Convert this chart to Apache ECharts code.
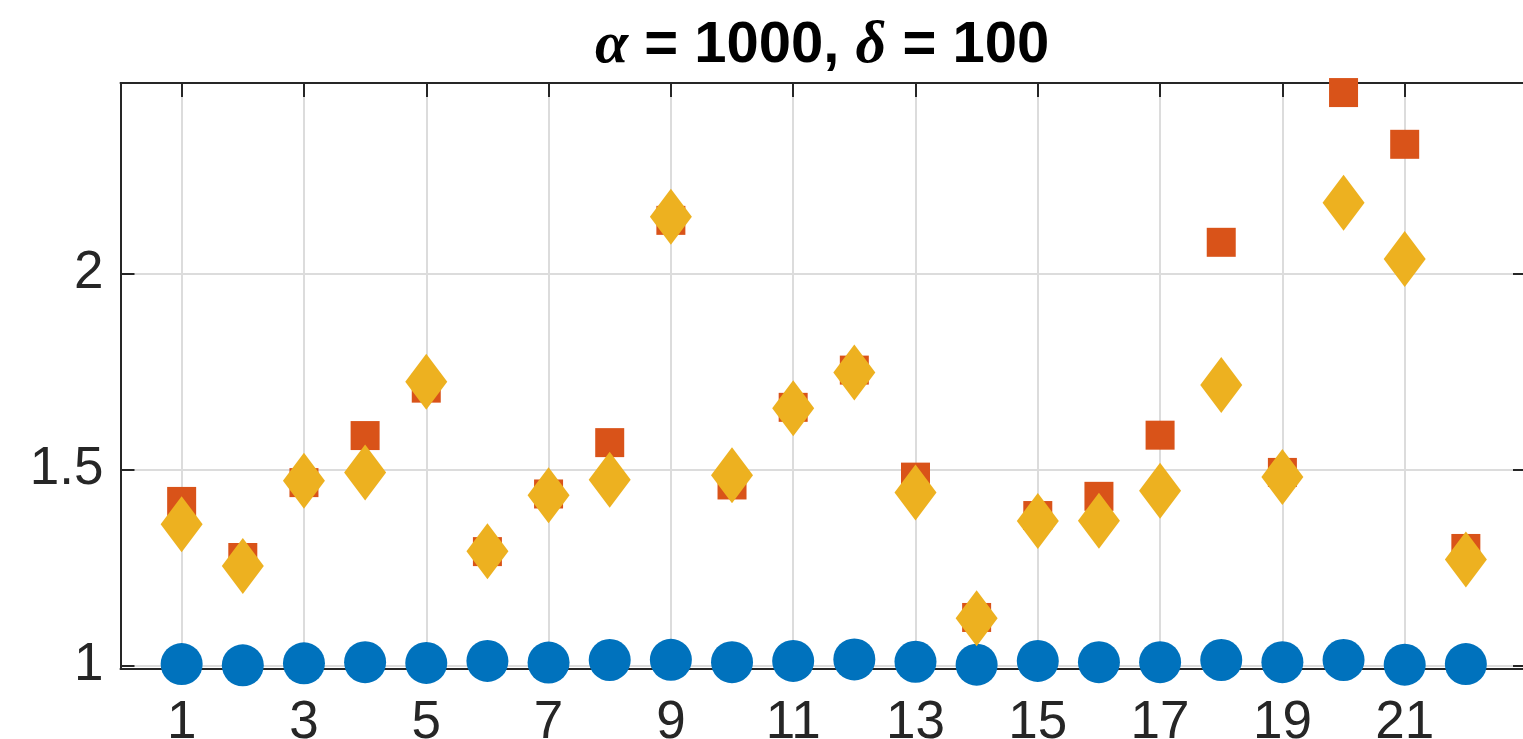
<!DOCTYPE html>
<html>
<head>
<meta charset="utf-8">
<script src="https://cdn.jsdelivr.net/npm/echarts@6/dist/echarts.min.js"></script>
<style>
  html, body { margin: 0; padding: 0; background: #ffffff; }
  #chart { width: 1523px; height: 739px; }
</style>
</head>
<body>
<div id="chart"></div>
<script>
// Case indices along the x axis
const caseIds = [1, 2, 3, 4, 5, 6, 7, 8, 9, 10, 11, 12, 13, 14, 15, 16, 17, 18, 19, 20, 21, 22];

// Ratio values per case for the three methods
const circleVals = [1.003, 1.000, 1.005, 1.008, 1.006, 1.011, 1.007, 1.0135, 1.014, 1.008, 1.011,
                    1.015, 1.009, 1.0015, 1.011, 1.008, 1.008, 1.0135, 1.008, 1.0135, 1.0015, 1.003];
const squareVals = [1.418, 1.275, 1.466, 1.586, 1.707, 1.290, 1.437, 1.568, 2.135, 1.460, 1.658,
                    1.753, 1.480, 1.122, 1.382, 1.431, 1.587, 2.079, 1.492, 2.461, 2.329, 1.298];
const diamondVals = [1.360, 1.253, 1.471, 1.492, 1.7235, 1.291, 1.434, 1.473, 2.144, 1.485, 1.656,
                     1.747, 1.441, 1.120, 1.368, 1.369, 1.445, 1.715, 1.480, 2.180, 2.0365, 1.270];

// Tick positions
const xTicks = [1, 3, 5, 7, 9, 11, 13, 15, 17, 19, 21];
const yTicks = [1, 1.5, 2];

const axisDark = '#262626';
const gridGray = '#dcdcdc';

const pairs = vals => caseIds.map((c, i) => [c, vals[i]]);

const chart = echarts.init(document.getElementById('chart'), null, { renderer: 'canvas' });

const tickStyle = { show: true, inside: true, length: 14, lineStyle: { color: axisDark, width: 2 } };

chart.setOption({
  animation: false,
  backgroundColor: '#ffffff',
  title: {
    text: '{g|α}{t| = 1000, }{g|δ}{t| = 100}',
    left: 590,
    top: 11,
    textStyle: {
      rich: {
        g: { fontFamily: 'Liberation Serif', fontStyle: 'italic', fontSize: 60, color: '#000000' },
        t: { fontFamily: 'Liberation Sans', fontWeight: 'bold', fontSize: 58, color: '#000000' }
      }
    }
  },
  grid: {
    left: 120.5, right: -4, top: 83, bottom: 70.5,
    containLabel: false, outerBoundsMode: 'none'
  },
  xAxis: [
    {
      type: 'value', position: 'bottom', min: 0, max: 23,
      axisLine: { show: true, onZero: false, lineStyle: { color: axisDark, width: 2 } },
      axisTick: Object.assign({ customValues: xTicks }, tickStyle),
      axisLabel: {
        customValues: xTicks, margin: 28,
        fontFamily: 'Liberation Sans', fontSize: 53, color: axisDark
      },
      splitLine: { show: true, lineStyle: { color: gridGray, width: 2 } }
    },
    {
      type: 'value', position: 'top', min: 0, max: 23,
      axisLine: { show: true, onZero: false, lineStyle: { color: axisDark, width: 2 } },
      axisTick: Object.assign({ customValues: xTicks }, tickStyle),
      axisLabel: { show: false },
      splitLine: { show: false }
    }
  ],
  yAxis: [
    {
      type: 'value', position: 'left', min: 0.9918, max: 2.4854,
      axisLine: { show: true, onZero: false, lineStyle: { color: axisDark, width: 2 } },
      axisTick: Object.assign({ customValues: yTicks }, tickStyle),
      axisLabel: {
        customValues: yTicks, margin: 17,
        fontFamily: 'Liberation Sans', fontSize: 53, color: axisDark
      },
      splitLine: { show: true, lineStyle: { color: gridGray, width: 2 } }
    },
    {
      type: 'value', position: 'right', min: 0.9918, max: 2.4854,
      axisLine: { show: true, onZero: false, lineStyle: { color: axisDark, width: 2 } },
      axisTick: Object.assign({ customValues: yTicks }, tickStyle),
      axisLabel: { show: false },
      splitLine: { show: false }
    }
  ],
  series: [
    {
      name: 'circle', type: 'scatter', data: pairs(circleVals),
      symbol: 'circle', symbolSize: 42, clip: false, z: 3,
      itemStyle: { color: '#0072BD', opacity: 1 }
    },
    {
      name: 'square', type: 'scatter', data: pairs(squareVals),
      symbol: 'rect', symbolSize: 29, clip: false, z: 4,
      itemStyle: { color: '#D95319', opacity: 1 }
    },
    {
      name: 'diamond', type: 'scatter', data: pairs(diamondVals),
      symbol: 'diamond', symbolSize: [42, 56], clip: false, z: 5,
      itemStyle: { color: '#EDB120', opacity: 1 }
    }
  ]
});
</script>
</body>
</html>
